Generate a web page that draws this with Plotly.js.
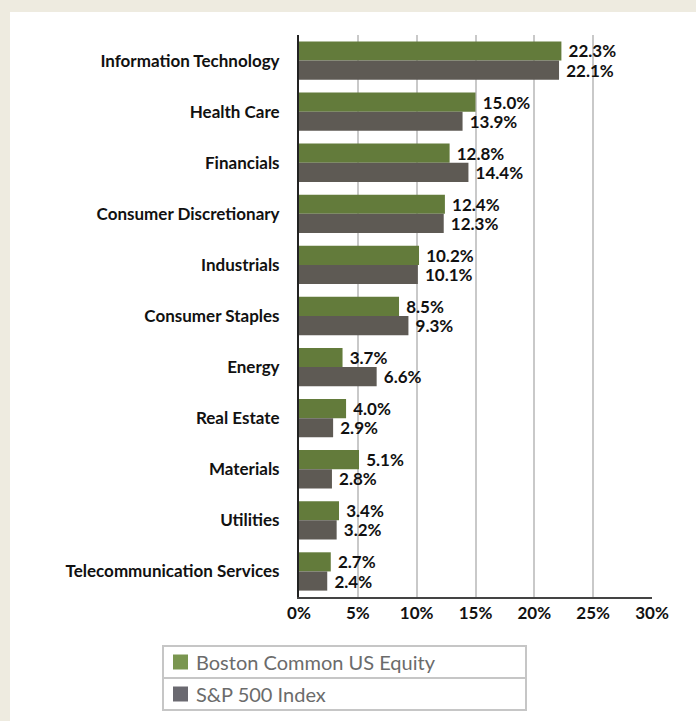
<!DOCTYPE html>
<html>
<head>
<meta charset="utf-8">
<script src="https://cdn.plot.ly/plotly-3.0.1.min.js"></script>
<style>
  html, body { margin: 0; padding: 0; background: #EEEBE0; width: 696px; height: 721px; overflow: hidden; }
  #chart { position: absolute; left: 10px; top: 12px; width: 686px; height: 709px; background: #fff; }
</style>
</head>
<body>
<div id="chart"></div>
<script>
const categories = ["Information Technology", "Health Care", "Financials", "Consumer Discretionary",
  "Industrials", "Consumer Staples", "Energy", "Real Estate", "Materials", "Utilities",
  "Telecommunication Services"];
const seriesNames = ["Boston Common US Equity", "S&P 500 Index"];
const bostonCommon = [22.3, 15.0, 12.8, 12.4, 10.2, 8.5, 3.7, 4.0, 5.1, 3.4, 2.7];
const sp500 = [22.1, 13.9, 14.4, 12.3, 10.1, 9.3, 6.6, 2.9, 2.8, 3.2, 2.4];
const xTickVals = [0, 5, 10, 15, 20, 25, 30];
const xTickText = ["0%", "5%", "10%", "15%", "20%", "25%", "30%"];

const colors = ["#637B3B", "#5E5A54"];
const swatchColors = ["#7A9650", "#6A6970"];

const W = 686, H = 709;
const M = { l: 289, r: 44, t: 23, b: 124 };
const pw = W - M.l - M.r, ph = H - M.t - M.b;
const px = x => (x - M.l) / pw;            // div px -> paper x
const py = y => (H - M.b - y) / ph;        // div px -> paper y

const catFont = { family: "Lato, 'DejaVu Sans', sans-serif", size: 17, color: "#111", weight: "bold" };
const valFont = { family: "Lato, 'DejaVu Sans', sans-serif", size: 17, color: "#111", weight: "bold" };

const traces = [bostonCommon, sp500].map((vals, i) => ({
  type: "bar",
  orientation: "h",
  name: seriesNames[i],
  y: categories,
  x: vals,
  marker: { color: colors[i], line: { width: 0 } },
  texttemplate: " %{x:.1f}%",
  textposition: "outside",
  constraintext: "none",
  textfont: valFont,
  cliponaxis: false,
  hoverinfo: "skip"
}));

// legend box (div pixel coords)
const lx0 = 153, lx1 = 516, ly0 = 634, lmid = 666, ly1 = 698;
const shapes = [];
shapes.push({ type: "rect", xref: "paper", yref: "paper", x0: px(lx0), x1: px(lx1), y0: py(ly0), y1: py(ly1),
  line: { color: "#C6C6C6", width: 2 }, fillcolor: "rgba(0,0,0,0)", layer: "above" });
shapes.push({ type: "line", xref: "paper", yref: "paper", x0: px(lx0), x1: px(lx1), y0: py(lmid), y1: py(lmid),
  line: { color: "#C6C6C6", width: 2 }, layer: "above" });
const annotations = [];
[[lx0, ly0, lmid], [lx0, lmid, ly1]].forEach((row, i) => {
  const cy = (row[1] + row[2]) / 2;
  shapes.push({ type: "rect", xref: "paper", yref: "paper",
    x0: px(163), x1: px(178), y0: py(cy - 7.5), y1: py(cy + 7.5),
    line: { width: 0 }, fillcolor: swatchColors[i], layer: "above" });
  annotations.push({ xref: "paper", yref: "paper", x: px(184), y: py(cy), xanchor: "left", yanchor: "middle",
    text: seriesNames[i].replace("&", "&amp;"), showarrow: false,
    font: { family: "Lato, 'DejaVu Sans', sans-serif", size: 20, color: "#6B6B6B" } });
});

const layout = {
  width: W, height: H,
  margin: M,
  paper_bgcolor: "#ffffff",
  plot_bgcolor: "#ffffff",
  barmode: "group",
  bargap: 0.25,
  bargroupgap: 0,
  showlegend: false,
  xaxis: {
    range: [0, 30],
    tickvals: xTickVals,
    ticktext: xTickText,
    showgrid: true,
    gridcolor: "#C9C9C9",
    gridwidth: 2,
    zeroline: false,
    showline: true,
    linecolor: "#444",
    linewidth: 2,
    ticks: "",
    tickfont: catFont,
    fixedrange: true
  },
  yaxis: {
    autorange: "reversed",
    type: "category",
    showgrid: false,
    zeroline: false,
    showline: true,
    linecolor: "#222",
    linewidth: 2,
    ticks: "",
    ticklabelstandoff: 14,
    tickfont: catFont,
    fixedrange: true
  },
  shapes: shapes,
  annotations: annotations,
  font: { family: "Lato, sans-serif" }
};

Plotly.newPlot("chart", traces, layout, { displayModeBar: false, staticPlot: true });
</script>
</body>
</html>
